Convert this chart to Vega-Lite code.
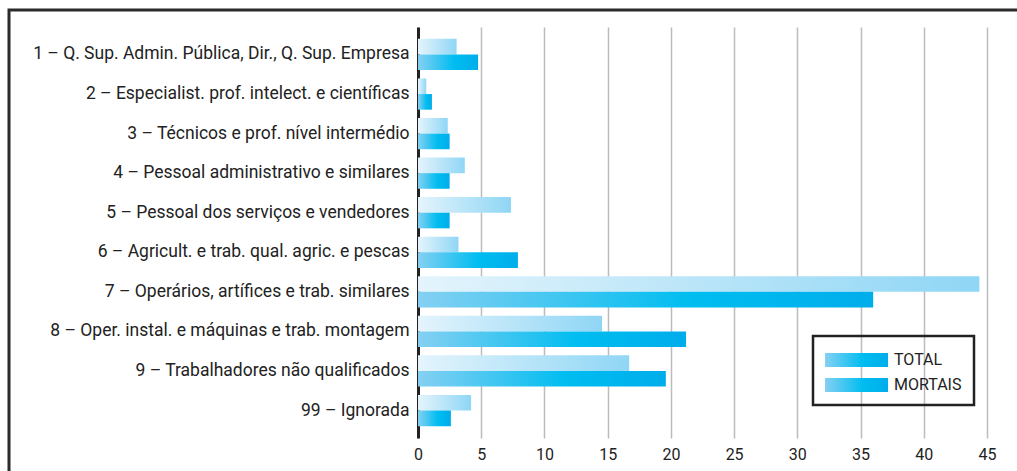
{
  "$schema": "https://vega.github.io/schema/vega-lite/v6.json",
  "width": 1100,
  "height": 480,
  "autosize": {"type": "none"},
  "padding": {"left": 9, "top": 10, "right": 0, "bottom": 0},
  "background": "white",
  "config": {
    "view": {"stroke": "#2b2b2b", "strokeWidth": 3},
    "font": "Roboto",
    "axis": {"labelFont": "Roboto", "labelColor": "#222222"},
    "legend": {"labelFont": "Roboto", "strokeColor": "#222222", "strokeWidth": 2.5}
  },
  "data": {
    "values": [
      {"cat": "1 – Q. Sup. Admin. Pública, Dir., Q. Sup. Empresa", "serie": "TOTAL", "v": 3.05},
      {"cat": "1 – Q. Sup. Admin. Pública, Dir., Q. Sup. Empresa", "serie": "MORTAIS", "v": 4.75},
      {"cat": "2 – Especialist. prof. intelect. e científicas", "serie": "TOTAL", "v": 0.65},
      {"cat": "2 – Especialist. prof. intelect. e científicas", "serie": "MORTAIS", "v": 1.1},
      {"cat": "3 – Técnicos e prof. nível intermédio", "serie": "TOTAL", "v": 2.35},
      {"cat": "3 – Técnicos e prof. nível intermédio", "serie": "MORTAIS", "v": 2.5},
      {"cat": "4 – Pessoal administrativo e similares", "serie": "TOTAL", "v": 3.7},
      {"cat": "4 – Pessoal administrativo e similares", "serie": "MORTAIS", "v": 2.5},
      {"cat": "5 – Pessoal dos serviços e vendedores", "serie": "TOTAL", "v": 7.35},
      {"cat": "5 – Pessoal dos serviços e vendedores", "serie": "MORTAIS", "v": 2.5},
      {"cat": "6 – Agricult. e trab. qual. agric. e pescas", "serie": "TOTAL", "v": 3.2},
      {"cat": "6 – Agricult. e trab. qual. agric. e pescas", "serie": "MORTAIS", "v": 7.9},
      {"cat": "7 – Operários, artífices e trab. similares", "serie": "TOTAL", "v": 44.4},
      {"cat": "7 – Operários, artífices e trab. similares", "serie": "MORTAIS", "v": 36.0},
      {"cat": "8 – Oper. instal. e máquinas e trab. montagem", "serie": "TOTAL", "v": 14.55},
      {"cat": "8 – Oper. instal. e máquinas e trab. montagem", "serie": "MORTAIS", "v": 21.2},
      {"cat": "9 – Trabalhadores não qualificados", "serie": "TOTAL", "v": 16.7},
      {"cat": "9 – Trabalhadores não qualificados", "serie": "MORTAIS", "v": 19.6},
      {"cat": "99 – Ignorada", "serie": "TOTAL", "v": 4.2},
      {"cat": "99 – Ignorada", "serie": "MORTAIS", "v": 2.6}
    ]
  },
  "mark": {"type": "bar", "strokeWidth": 0},
  "encoding": {
    "y": {
      "field": "cat",
      "type": "nominal",
      "sort": null,
      "scale": {"range": [17, 428], "paddingInner": 0.21, "paddingOuter": 0.3},
      "axis": {
        "title": null,
        "orient": "left",
        "offset": -409,
        "ticks": false,
        "domain": true,
        "domainColor": "#222222",
        "domainWidth": 3,
        "labelPadding": 9,
        "labelFontSize": 17.5,
        "labelLimit": 500,
        "grid": false
      }
    },
    "yOffset": {
      "field": "serie",
      "type": "nominal",
      "sort": ["TOTAL", "MORTAIS"],
      "scale": {"paddingInner": 0, "paddingOuter": 0}
    },
    "x": {
      "field": "v",
      "type": "quantitative",
      "scale": {"domain": [-32.35, 54.65], "nice": false, "zero": false},
      "axis": {
        "title": null,
        "orient": "top",
        "offset": -452,
        "values": [0, 5, 10, 15, 20, 25, 30, 35, 40, 45],
        "ticks": false,
        "domain": false,
        "grid": true,
        "gridColor": "#bcbcbc",
        "gridWidth": 1.5,
        "labelPadding": 0,
        "labelFontSize": 16
      }
    },
    "fill": {
      "condition": {
        "test": "datum.serie === 'TOTAL'",
        "value": {"gradient": "linear", "x1": 0, "y1": 0, "x2": 1, "y2": 0, "stops": [{"offset": 0, "color": "#e4f4fc"}, {"offset": 1, "color": "#8fd6f5"}]}
      },
      "value": {"gradient": "linear", "x1": 0, "y1": 0, "x2": 1, "y2": 0, "stops": [{"offset": 0, "color": "#85d0f2"}, {"offset": 0.6, "color": "#00bdf0"}, {"offset": 1, "color": "#00adeb"}]}
    },
    "stroke": {
      "field": "serie",
      "type": "nominal",
      "sort": ["TOTAL", "MORTAIS"],
      "scale": {"domain": ["TOTAL", "MORTAIS"], "range": ["#8fd6f5", "#00b4ef"]},
      "legend": {
        "title": null,
        "orient": "none",
        "legendX": 804,
        "legendY": 326,
        "symbolType": "M-2.625,-0.583H2.625V0.583H-2.625Z",
        "symbolSize": 576,
        "symbolStrokeWidth": 0,
        "symbolOffset": 19.5,
        "labelOffset": 25.5,
        "labelFontSize": 16,
        "labelColor": "#222222",
        "rowPadding": 5,
        "padding": 12,
        "strokeColor": "#222222",
        "encode": {
          "symbols": {
            "update": {
              "fill": {"signal": "datum.value === 'TOTAL' ? {gradient: 'linear', x1: 0, y1: 0, x2: 1, y2: 0, stops: [{offset: 0, color: '#e4f4fc'}, {offset: 1, color: '#8fd6f5'}]} : {gradient: 'linear', x1: 0, y1: 0, x2: 1, y2: 0, stops: [{offset: 0, color: '#85d0f2'}, {offset: 0.6, color: '#00bdf0'}, {offset: 1, color: '#00adeb'}]}"},
              "stroke": {"value": "transparent"},
              "strokeWidth": {"value": 0}
            }
          }
        }
      }
    }
  }
}
